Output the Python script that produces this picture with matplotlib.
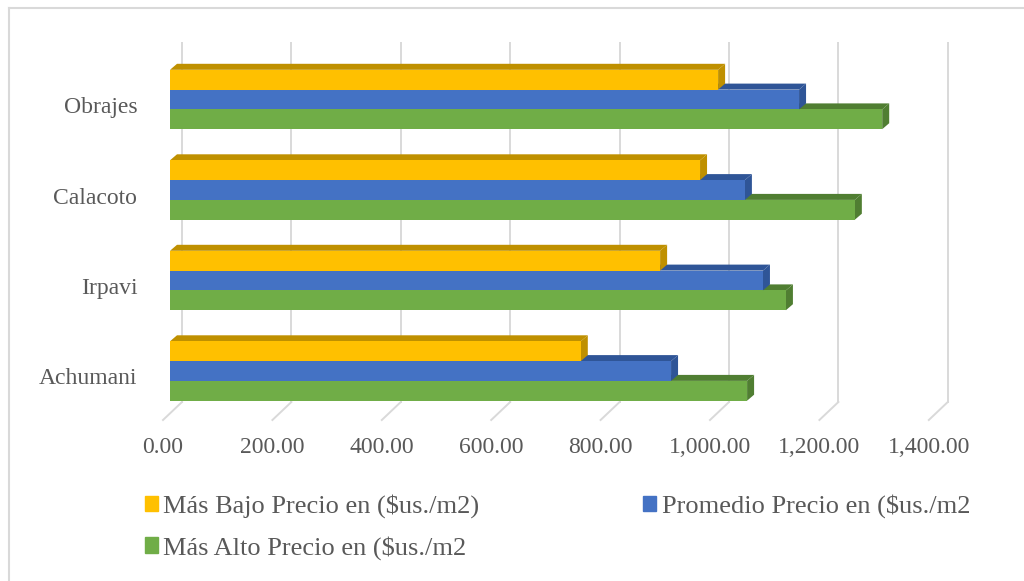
import matplotlib
matplotlib.use("Agg")
import matplotlib.pyplot as plt
from matplotlib.patches import Polygon, Patch
from matplotlib.lines import Line2D
from matplotlib.transforms import ScaledTranslation
from matplotlib.ticker import FuncFormatter

# ---- data -------------------------------------------------------------
zonas = ["Achumani", "Irpavi", "Calacoto", "Obrajes"]
mas_bajo = [751, 896, 969, 1002]
promedio = [916, 1084, 1051, 1150]
mas_alto = [1055, 1126, 1252, 1302]
etiquetas = ["Más Bajo Precio en ($us./m2)",
             "Promedio Precio en ($us./m2",
             "Más Alto Precio en ($us./m2"]
x_ticks = [0, 200, 400, 600, 800, 1000, 1200, 1400]

# ---- style ------------------------------------------------------------
plt.rcParams["font.family"] = ["Liberation Serif", "DejaVu Serif"]
TEXT = "#595959"
GRID = "#d9d9d9"
front_cols = ["#FFC000", "#4472C4", "#70AD47"]
shade_cols = ["#BF9000", "#2F5597", "#507E32"]

W, H, DPI = 1024, 581, 100
fig = plt.figure(figsize=(W / DPI, H / DPI), dpi=DPI)

# plot area of the bar plane, in pixels
x0_px, top_px, bot_px = 170, 54, 413.5
SX = 0.547            # pixels per price unit
SY = 90.5             # pixels per category step
first_px = 371        # pixel row of the lowest category
x1_px = x0_px + x_ticks[-1] * SX
ax = fig.add_axes([x0_px / W, 1 - bot_px / H, (x1_px - x0_px) / W,
                   (bot_px - top_px) / H])
ax.set_xlim(0, x_ticks[-1])
ylo = -(bot_px - first_px) / SY
yhi = (first_px - top_px) / SY
ax.set_ylim(ylo, yhi)
for s in ax.spines.values():
    s.set_visible(False)

# depth offsets converted to data units
bar_dx, bar_dy = 7 / SX, 6 / SY
wall_dx, wall_dy = 12 / SX, 11.5 / SY
floor_dx, floor_dy = -7 / SX, -6.5 / SY
bar_h = 19.8 / SY

# back-wall gridlines with their floor diagonals
for v in x_ticks:
    ax.add_line(Line2D([v + wall_dx, v + wall_dx],
                       [ylo + wall_dy, yhi + wall_dy],
                       color=GRID, lw=1.4, zorder=1, clip_on=False))
    ax.add_line(Line2D([v + wall_dx, v + floor_dx],
                       [ylo + wall_dy, ylo + floor_dy],
                       color=GRID, lw=1.4, zorder=1, clip_on=False))

# 3-D looking bars: series listed top-to-bottom inside each group
series = [mas_bajo, promedio, mas_alto]
offsets = [bar_h, 0.0, -bar_h]
for k in [2, 1, 0]:
    vals = series[k]
    ys = [i + offsets[k] for i in range(len(zonas))]
    z = 2 + (2 - k)
    ax.barh(ys, vals, height=bar_h, color=front_cols[k], zorder=z + 0.5,
            linewidth=0)
    for y, v in zip(ys, vals):
        yt, yb = y + bar_h / 2, y - bar_h / 2
        top = Polygon([(0, yt), (v, yt), (v + bar_dx, yt + bar_dy),
                       (bar_dx, yt + bar_dy)], closed=True,
                      facecolor=shade_cols[k], edgecolor="none", zorder=z,
                      clip_on=False)
        side = Polygon([(v, yb), (v, yt), (v + bar_dx, yt + bar_dy),
                        (v + bar_dx, yb + bar_dy)], closed=True,
                       facecolor=shade_cols[k], edgecolor="none", zorder=z,
                       clip_on=False)
        ax.add_patch(top)
        ax.add_patch(side)

# axis labels sit on the front edge of the floor
ax.set_xticks(x_ticks)
ax.xaxis.set_major_formatter(FuncFormatter(lambda v, p: f"{v:,.2f}"))
ax.set_yticks(range(len(zonas)))
ax.set_yticklabels(zonas)
ax.tick_params(axis="x", length=0, pad=17, labelsize=17, labelcolor=TEXT)
ax.tick_params(axis="y", length=0, pad=18.5, labelsize=17, labelcolor=TEXT)
shift_x = ScaledTranslation(-7 / DPI, 0, fig.dpi_scale_trans)
shift_y = ScaledTranslation(-7 / DPI, -5.5 / DPI, fig.dpi_scale_trans)
for lbl in ax.get_xticklabels():
    lbl.set_transform(lbl.get_transform() + shift_x)
for lbl in ax.get_yticklabels():
    lbl.set_transform(lbl.get_transform() + shift_y)

# legend: Bajo / Promedio on first row, Alto below
handles = [Patch(color=front_cols[0]), Patch(color=front_cols[2]),
           Patch(color=front_cols[1])]
labels = [etiquetas[0], etiquetas[2], etiquetas[1]]
fig.legend(handles, labels, ncol=2, loc="upper left",
           bbox_to_anchor=(145 / W, 1 - 494 / H), frameon=False,
           fontsize=19, handlelength=0.5, handleheight=0.5,
           handletextpad=0.2, columnspacing=6.2, labelspacing=0.68,
           borderpad=0, borderaxespad=0, labelcolor=TEXT)

# chart-area border (left and top edges)
fig.add_artist(Line2D([9 / W, 9 / W], [0, 1 - 8 / H], color=GRID, lw=1.5,
                      transform=fig.transFigure))
fig.add_artist(Line2D([9 / W, 1], [1 - 8 / H, 1 - 8 / H], color=GRID,
                      lw=1.5, transform=fig.transFigure))

fig.savefig("out.png", dpi=DPI)
